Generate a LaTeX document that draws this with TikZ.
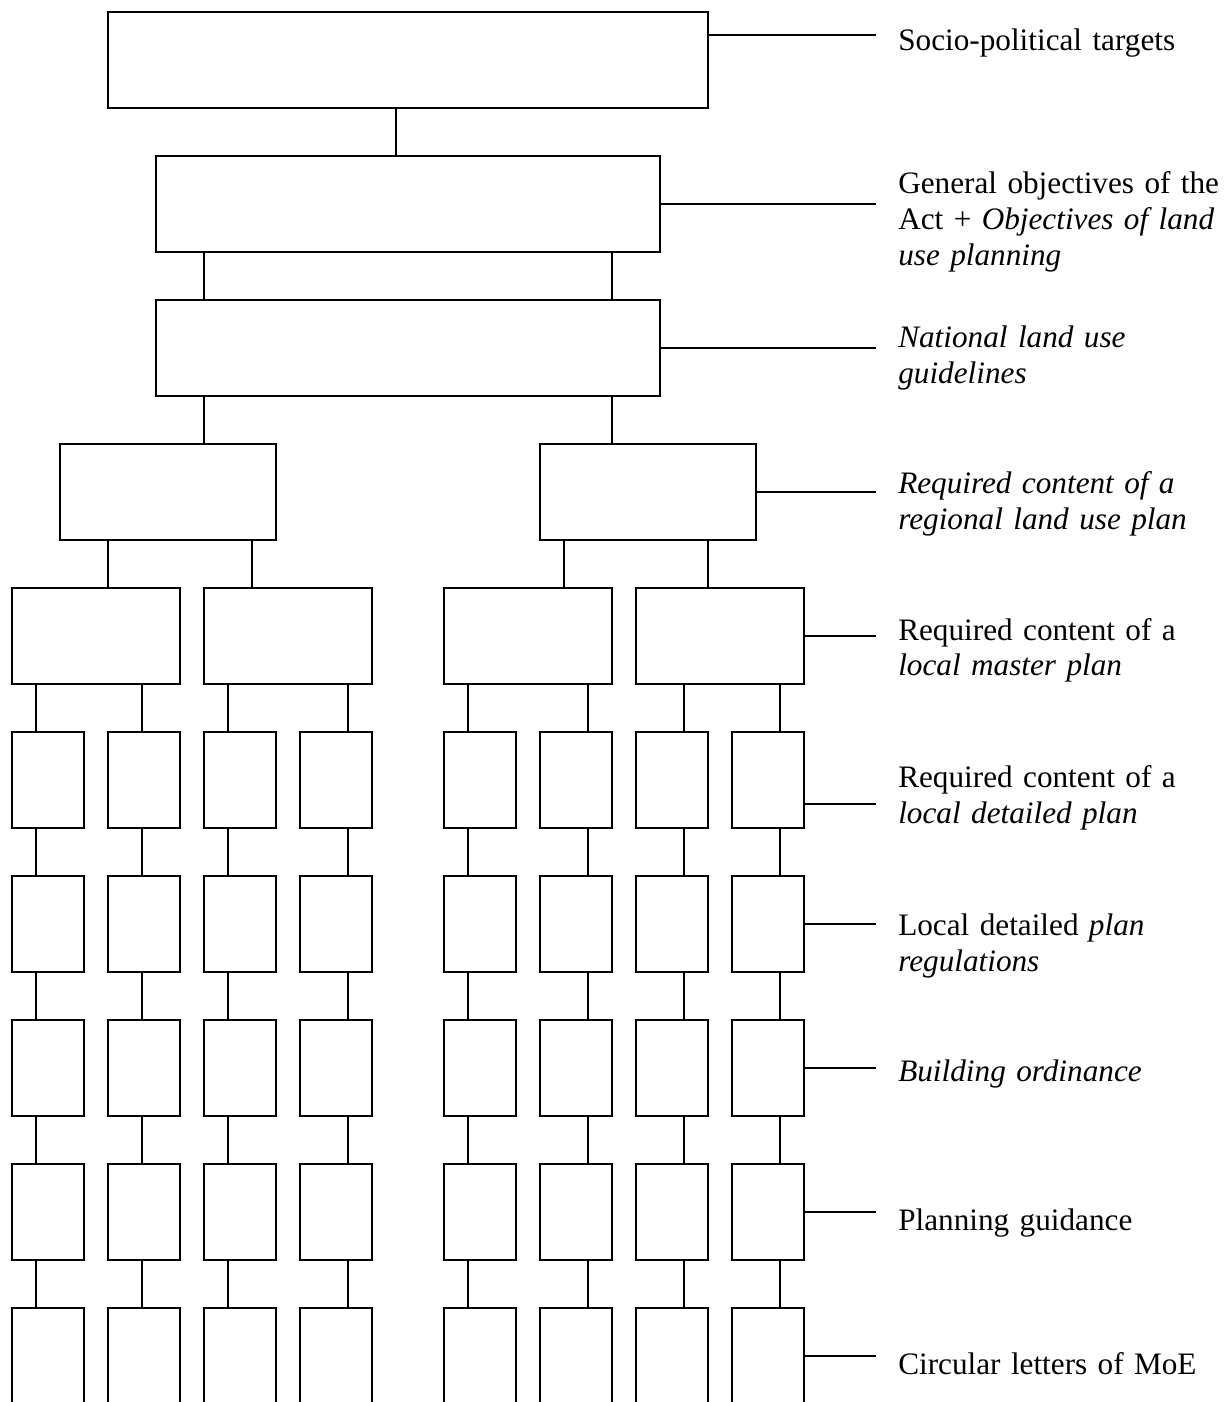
\documentclass[tikz,border=0pt]{standalone}
\usepackage{fontspec}
\setmainfont{Liberation Serif}
\tikzset{every path/.style={line width=1.1pt}}

\begin{document}
\begin{tikzpicture}[plan/.style={draw, inner sep=0, minimum height=2cm},
  tag/.style={anchor=base west, inner xsep=0.44cm, inner ysep=0, text width=6.9cm,
    align=left, font=\fontsize{18.5}{21.3}\selectfont}]
\useasboundingbox (0,0) rectangle (25.65,-29.2);
\node[plan, minimum width=12.5cm] (soc) at (8.5,-1.25) {};
\node[plan, minimum width=10.5cm] (gen) at (8.5,-4.25) {};
\node[plan, minimum width=10.5cm] (nat) at (8.5,-7.25) {};
\node[plan, minimum width=4.5cm] (regA) at (3.5,-10.25) {};
\node[plan, minimum width=4.5cm] (regB) at (13.5,-10.25) {};
\foreach \x [count=\i] in {2,6,11,15}
  \node[plan, minimum width=3.5cm] (mas\i) at (\x,-13.25) {};
\foreach \y [count=\r from 6] in {16.25,19.25,22.25,25.25,28.25}
  \foreach \x [count=\i] in {1,3,5,7,10,12,14,16}
    \node[plan, minimum width=1.5cm] (c\r-\i) at (\x,-\y) {};

\draw (8.25,0 |- soc.south) -- (8.25,0 |- gen.north);
\draw (4.25,0 |- gen.south) -- (4.25,0 |- nat.north);
\draw (12.75,0 |- gen.south) -- (12.75,0 |- nat.north);
\draw (4.25,0 |- nat.south) -- (4.25,0 |- regA.north);
\draw (12.75,0 |- nat.south) -- (12.75,0 |- regB.north);
\draw (2.25,0 |- regA.south) -- (2.25,0 |- mas1.north);
\draw (5.25,0 |- regA.south) -- (5.25,0 |- mas2.north);
\draw (11.75,0 |- regB.south) -- (11.75,0 |- mas3.north);
\draw (14.75,0 |- regB.south) -- (14.75,0 |- mas4.north);
\foreach \x/\m [count=\i] in {0.75/1,2.95/1,4.75/2,7.25/2,9.75/3,12.25/3,14.25/4,16.25/4} {
  \draw (\x,0 |- mas\m.south) -- (\x,0 |- c6-\i.north);
  \foreach \r [evaluate=\r as \s using int(\r+1)] in {6,...,9}
    \draw (\x,0 |- c\r-\i.south) -- (\x,0 |- c\s-\i.north);
}

\node[tag] (t1) at (18.25,-1.06) {Socio-political targets};
\node[tag] (t2) at (18.25,-4.04) {General objectives of the\\ Act + \textit{Objectives of land}\\ \textit{use planning}};
\node[tag] (t3) at (18.25,-7.23) {\itshape National land use\\ guidelines};
\node[tag] (t4) at (18.25,-10.27) {\itshape Required content of a\\ regional land use plan};
\node[tag] (t5) at (18.25,-13.33) {Required content of a\\ \textit{local master plan}};
\node[tag] (t6) at (18.25,-16.4) {Required content of a\\ \textit{local detailed plan}};
\node[tag] (t7) at (18.25,-19.48) {Local detailed \textit{plan}\\ \textit{regulations}};
\node[tag] (t8) at (18.25,-22.52) {\itshape Building ordinance};
\node[tag] (t9) at (18.25,-25.63) {Planning guidance};
\node[tag] (t10) at (18.25,-28.63) {Circular letters of MoE};

\draw (soc.east |- 0,-0.72) -- (t1.west |- 0,-0.72);
\draw (gen.east |- 0,-4.25) -- (t2.west |- 0,-4.25);
\draw (nat.east |- 0,-7.25) -- (t3.west |- 0,-7.25);
\draw (regB.east |- 0,-10.25) -- (t4.west |- 0,-10.25);
\draw (mas4.east |- 0,-13.25) -- (t5.west |- 0,-13.25);
\draw (c6-8.east |- 0,-16.75) -- (t6.west |- 0,-16.75);
\draw (c7-8.east |- 0,-19.25) -- (t7.west |- 0,-19.25);
\draw (c8-8.east |- 0,-22.25) -- (t8.west |- 0,-22.25);
\draw (c9-8.east |- 0,-25.25) -- (t9.west |- 0,-25.25);
\draw (c10-8.east |- 0,-28.25) -- (t10.west |- 0,-28.25);
\end{tikzpicture}
\end{document}
